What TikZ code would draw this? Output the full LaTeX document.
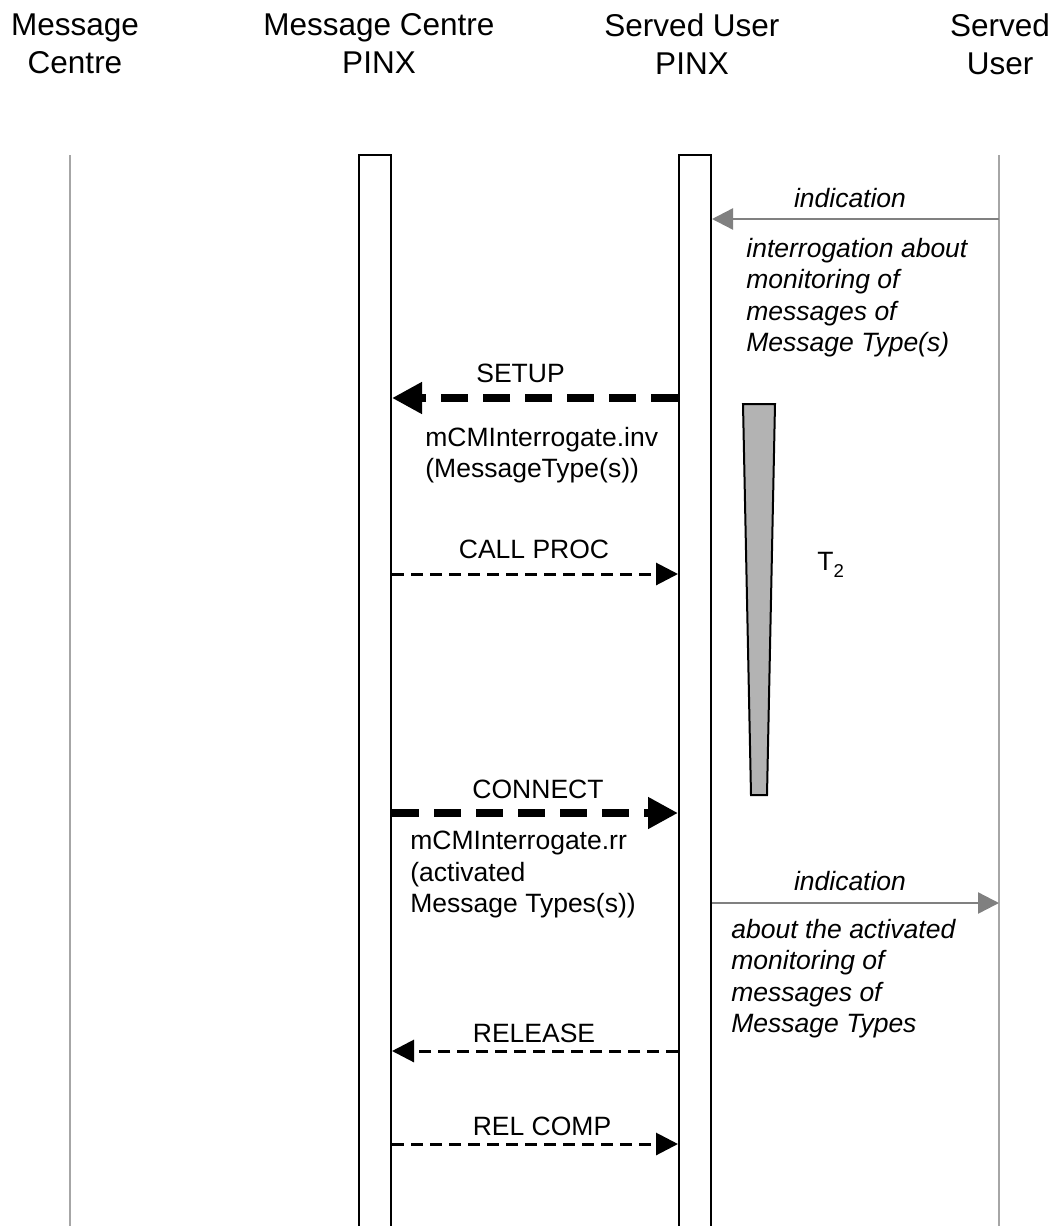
\documentclass[tikz,border=0pt]{standalone}
\usepackage{fontspec}
\setmainfont{Liberation Sans}
\usetikzlibrary{arrows.meta}
\definecolor{lifegray}{RGB}{166,166,166}
\definecolor{siggray}{RGB}{128,128,128}
\definecolor{timergray}{RGB}{179,179,179}

\begin{document}
\begin{tikzpicture}[x=0.5pt,y=-0.5pt,
    head/.style={font=\fontsize{15.75}{19}\selectfont,align=center,inner sep=0pt,anchor=north},
    lbl/.style={font=\fontsize{13.25}{15.6}\selectfont,inner sep=0pt,anchor=base},
    ilbl/.style={lbl,font=\fontsize{13.25}{15.6}\selectfont\itshape},
    block/.style={align=left,anchor=north west},
    pinx/.style={draw,line width=1pt,minimum width=16pt,minimum height=600pt,inner sep=0pt,anchor=north},
    lifeline/.style={draw=lifegray,line width=1pt},
    thickmsg/.style={line width=4pt,dash pattern=on 13.5pt off 7.5pt,-{Triangle[length=15pt,width=15pt]}},
    thinmsg/.style={line width=1.5pt,dash pattern=on 6pt off 3.5pt,-{Triangle[length=11pt,width=11pt]}},
    usermsg/.style={draw=siggray,line width=1.2pt,-{Triangle[length=10.5pt,width=10.5pt]}}]
  \useasboundingbox (0,0) rectangle (1055,1226);

  % column heads
  \node[head] (hmc) at (75,13.5) {Message\\Centre};
  \node[head] (hmcp) at (379,13.5) {Message Centre\\PINX};
  \node[head] (hsup) at (692,13.5) {Served User\\PINX};
  \node[head] (hsu) at (1000,13.5) {Served\\User};

  % lifelines and PINX boxes
  \coordinate (mc) at (70,155);
  \coordinate (su) at (999,155);
  \draw[lifeline] (mc) -- ++(0,1071);
  \draw[lifeline] (su) -- ++(0,1071);
  \node[pinx] (mcpinx) at (375,154) {};
  \node[pinx] (supinx) at (695,154) {};

  % timer T2
  \filldraw[fill=timergray,line width=1pt] (743,404) -- (775,404) -- (767,795) -- (751,795) -- cycle;
  \node[lbl,anchor=base west] (t2) at (817,570) {T\raisebox{-0.55ex}{\fontsize{9.3}{10}\selectfont 2}};

  % interrogation
  \draw[usermsg] (su |- 0,219) -- (supinx.east |- 0,219);
  \node[ilbl] (ind1) at (850,207) {indication};
  \node[ilbl,block] (ind1txt) at (746,238) {interrogation about\\monitoring of\\messages of\\Message Type(s)};

  \draw[thickmsg] (supinx.west |- 0,398) -- (mcpinx.east |- 0,398);
  \node[lbl] (setup) at (520.5,382) {SETUP};
  \node[lbl,block] (inv) at (425,427) {mCMInterrogate.inv\\(MessageType(s))};

  \draw[thinmsg] (mcpinx.east |- 0,574) -- (supinx.west |- 0,574);
  \node[lbl] (callproc) at (534,558) {CALL PROC};

  % result
  \draw[thickmsg] (mcpinx.east |- 0,813) -- (supinx.west |- 0,813);
  \node[lbl] (connect) at (538,798) {CONNECT};
  \node[lbl,block] (rr) at (410,831) {mCMInterrogate.rr\\(activated\\Message Types(s))};

  \draw[usermsg] (supinx.east |- 0,903) -- (su |- 0,903);
  \node[ilbl] (ind2) at (850,890) {indication};
  \node[ilbl,block] (ind2txt) at (731,919) {about the activated\\monitoring of\\messages of\\Message Types};

  % clearing
  \draw[thinmsg] (supinx.west |- 0,1051) -- (mcpinx.east |- 0,1051);
  \node[lbl] (release) at (534,1042) {RELEASE};
  \draw[thinmsg] (mcpinx.east |- 0,1144) -- (supinx.west |- 0,1144);
  \node[lbl] (relcomp) at (542,1135) {REL COMP};
\end{tikzpicture}
\end{document}
